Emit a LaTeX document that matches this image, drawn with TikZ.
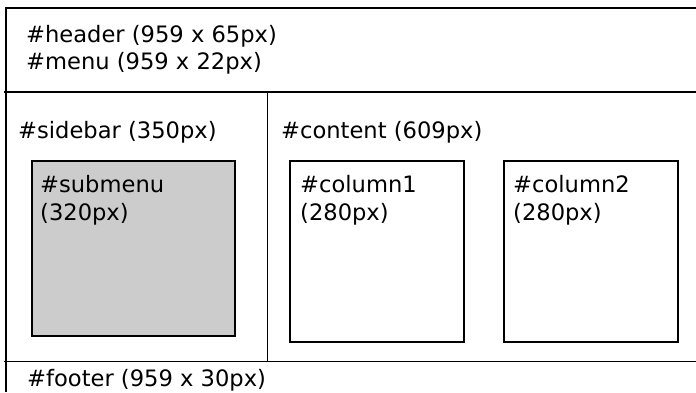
\documentclass[tikz,border=0pt]{standalone}
\usepackage{fontspec}
\setmainfont{DejaVu Sans}
\usepackage{tikz}

\begin{document}
\begin{tikzpicture}[x=1pt,y=-1pt,
        lbl/.style={anchor=base west,inner sep=0pt,font=\fontsize{22.6}{27}\selectfont},
        thick line/.style={line width=2pt},
        thin line/.style={line width=1pt}]
        \useasboundingbox (0,0) rectangle (696,392);

        % outer frame and dividers
        \draw[thick line] (696,8) -- (6,8) -- (6,392);
        \draw[thick line] (4,92) -- (696,92);
        \draw[line width=1.5pt] (4,361.5) -- (696,361.5);
        \draw[thin line] (267.5,92) -- (267.5,361.5);

        % inner boxes
        \draw[line width=1.5pt,fill=black!20] (32,161) rectangle (235,336);
        \draw[thick line] (290,161) rectangle (464,342);
        \draw[thick line] (504,161) rectangle (678,342);

        \node[lbl] at (26,42) (header) {\#header (959 x 65px)};
        \node[lbl] at (26,69) (menu) {\#menu (959 x 22px)};
        \node[lbl] at (18,138) (sidebar) {\#sidebar (350px)};
        \node[lbl] at (281,138) (content) {\#content (609px)};
        \node[lbl] at (40,192) (submenu) {\#submenu};
        \node[lbl] at (40,220) (submenuw) {(320px)};
        \node[lbl] at (300,192) (col1) {\#column1};
        \node[lbl] at (300,220) (col1w) {(280px)};
        \node[lbl] at (513,192) (col2) {\#column2};
        \node[lbl] at (513,220) (col2w) {(280px)};
        \node[lbl] at (27,386) (footer) {\#footer (959 x 30px)};
    \end{tikzpicture}
\end{document}
